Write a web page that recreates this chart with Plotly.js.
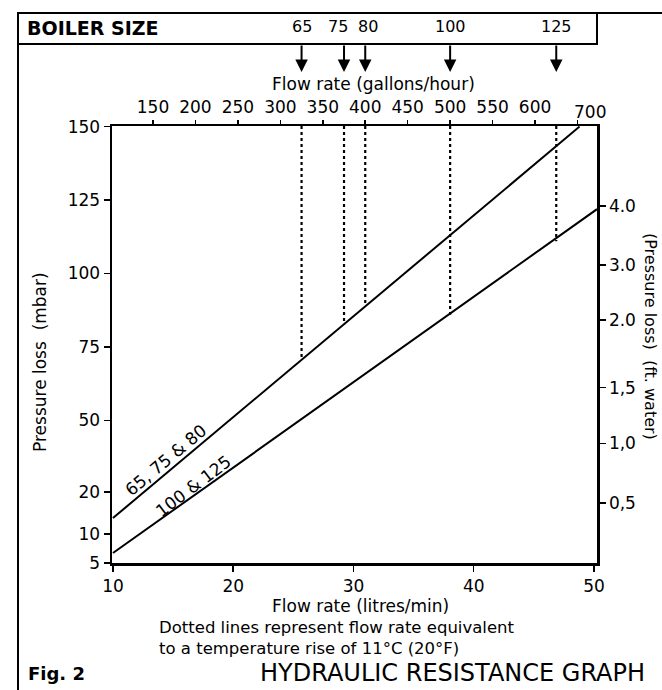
<!DOCTYPE html>
<html>
<head>
<meta charset="utf-8">
<script src="https://cdn.plot.ly/plotly-3.0.1.min.js"></script>
<style>html,body{margin:0;padding:0;background:#fff;}#chart{width:662px;height:690px;}</style>
</head>
<body>
<div id="chart"></div>
<script>
// ---- data ----
const flowTicksLpm = [10, 20, 30, 40, 50];
const flowTicksGph = [150, 200, 250, 300, 350, 400, 450, 500, 550, 600, 650];
const flowTickTextGph = ['150', '200', '250', '300', '350', '400', '450', '500', '550', '600', ''];
const mbarTickText = ['5', '10', '20', '50', '75', '100', '125', '150'];
const mbarTickVals = [1.5, 11.4, 25.6, 50, 75, 100, 125, 150];
const ftTickText = ['0,5', '1,0', '1,5', '2.0', '3.0', '4.0'];
const ftTickVals = [21.9, 42.2, 61.2, 84.2, 102.9, 122.9];

const curveNames = ['65, 75 & 80', '100 & 125'];
const curveAFlow = [10, 48.8];
const curveALoss = [16.8, 150];
const curveBFlow = [10, 50.25];
const curveBLoss = [4.9, 121.9];

const boilerSizes = ['65', '75', '80', '100', '125'];
const boilerFlowGph = [325, 375, 400, 500, 625];
const boilerDottedEndLoss = [71, 83, 89, 86, 111];

// ---- layout helpers ----
const W = 662, H = 690;
const L = 112, R = 597, T = 126, B = 563;
const px2x = p => (p - L) / (R - L);
const px2y = p => (B - p) / (B - T);
const FONT = 'DejaVu Sans, Liberation Sans, sans-serif';
const black = '#000';
const f = (size) => ({family: FONT, size: size, color: black});
const labelShift = [0, -6, 3, 0, 0];

const traces = [
  {x: curveAFlow, y: curveALoss, xaxis: 'x', yaxis: 'y', mode: 'lines',
   line: {color: black, width: 2}, name: curveNames[0], hoverinfo: 'skip'},
  {x: curveBFlow, y: curveBLoss, xaxis: 'x', yaxis: 'y2', mode: 'lines',
   line: {color: black, width: 2}, name: curveNames[1], hoverinfo: 'skip'}
];
boilerSizes.forEach((b, i) => {
  traces.push({x: [boilerFlowGph[i], boilerFlowGph[i]], y: [150.2, boilerDottedEndLoss[i]],
    xaxis: 'x2', yaxis: 'y', mode: 'lines', line: {color: black, width: 2.2, dash: 'dot'},
    name: b, hoverinfo: 'skip'});
});

const annotations = [];
// header arrows + boiler labels
boilerSizes.forEach((b, i) => {
  annotations.push({xref: 'x2', yref: 'paper', x: boilerFlowGph[i], y: px2y(72),
    ax: 0, ay: -28, text: '', showarrow: true, arrowhead: 2, arrowsize: 1.25,
    arrowwidth: 2, arrowcolor: black});
  annotations.push({xref: 'x2', yref: 'paper', x: boilerFlowGph[i], y: px2y(27),
    xshift: labelShift[i],
    text: b, showarrow: false, font: f(16), xanchor: 'center', yanchor: 'middle'});
});
const txt = (text, xp, yp, opts) => Object.assign({xref: 'paper', yref: 'paper',
  x: px2x(xp), y: px2y(yp), text: text, showarrow: false,
  font: f(18), xanchor: 'left', yanchor: 'middle'}, opts || {});

annotations.push(txt('<b>BOILER SIZE</b>', 25, 28, {font: f(19)}));
annotations.push(txt('Flow rate (gallons/hour)', 373, 84, {xanchor: 'center', font: f(17)}));
annotations.push(txt('700', 590, 112, {xanchor: 'center', font: f(17)}));
annotations.push(txt('Pressure loss  (mbar)', 40, 362, {xanchor: 'center', textangle: -90, font: f(17)}));
annotations.push(txt('(Pressure loss)  (ft. water)', 651, 336, {xanchor: 'center', textangle: 90, font: f(16)}));
annotations.push(txt('Flow rate (litres/min)', 360, 606, {xanchor: 'center', font: f(17)}));
annotations.push(txt('Dotted lines represent flow rate equivalent<br>to a temperature rise of 11°C (20°F)',
  157, 638, {font: f(16.5), align: 'left'}));
annotations.push(txt('<b>Fig. 2</b>', 26, 673, {font: f(18)}));
annotations.push(txt('HYDRAULIC RESISTANCE GRAPH', 258, 673, {font: f(24)}));
// curve labels
annotations.push({xref: 'x', yref: 'y', x: 14.4, y: 36.5, text: curveNames[0], showarrow: false,
  textangle: -40, font: f(17)});
annotations.push({xref: 'x', yref: 'y', x: 16.7, y: 27.6, text: curveNames[1], showarrow: false,
  textangle: -37, font: f(17)});

const shapes = [
  {type: 'rect', xref: 'paper', yref: 'paper', x0: px2x(18), x1: px2x(597), y0: px2y(13), y1: px2y(44),
   line: {color: black, width: 2}},
  {type: 'line', xref: 'paper', yref: 'paper', x0: px2x(597), x1: px2x(662), y0: px2y(13), y1: px2y(13),
   line: {color: black, width: 2}},
  {type: 'line', xref: 'paper', yref: 'paper', x0: px2x(18), x1: px2x(18), y0: px2y(13), y1: px2y(690),
   line: {color: black, width: 2}}
];

const axisBase = {showgrid: false, zeroline: false, showline: true, linecolor: black, linewidth: 2.5,
  ticks: 'outside', ticklen: 6, tickwidth: 1.5, tickcolor: black,
  tickfont: f(17), fixedrange: true};

const layout = {
  width: W, height: H, showlegend: false,
  paper_bgcolor: '#fff', plot_bgcolor: '#fff',
  margin: {l: L, r: W - R, t: T, b: H - B, pad: 0},
  xaxis: Object.assign({}, axisBase, {range: [9.92, 50.25], tickvals: flowTicksLpm,
    ticktext: flowTicksLpm.map(String)}),
  xaxis2: Object.assign({}, axisBase, {overlaying: 'x', side: 'top', anchor: 'y',
    range: [101.7, 673.0], tickvals: flowTicksGph, ticktext: flowTickTextGph, ticklen: 4}),
  yaxis: Object.assign({}, axisBase, {range: [1.5, 150.2], tickvals: mbarTickVals, ticktext: mbarTickText}),
  yaxis2: Object.assign({}, axisBase, {overlaying: 'y', side: 'right', anchor: 'x',
    range: [1.5, 150.2], tickvals: ftTickVals, ticktext: ftTickText}),
  annotations: annotations,
  shapes: shapes
};

Plotly.newPlot('chart', traces, layout, {staticPlot: true, displayModeBar: false});
</script>
</body>
</html>
